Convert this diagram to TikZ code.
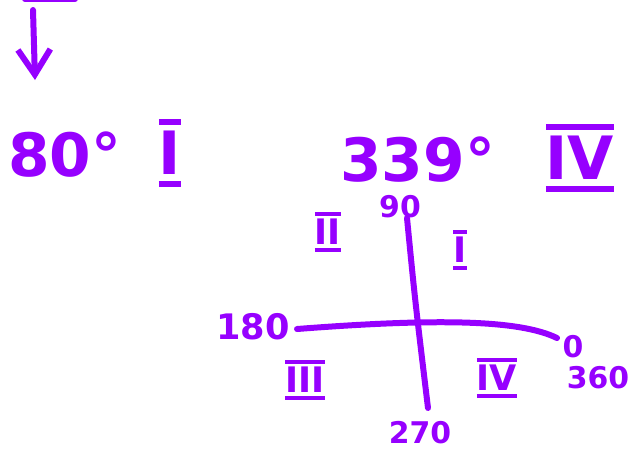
\documentclass[tikz,border=0pt]{standalone}
\usepackage{fontspec}
\setmainfont{DejaVu Sans}
\usetikzlibrary{arrows.meta,positioning}
\definecolor{penviolet}{RGB}{150,0,255}
% roman numeral with a bar above and below
\newcommand{\rnum}[1]{\setbox0=\hbox{#1}\vbox{\hrule height .11em width \wd0\kern.1em\box0\kern.1em\hrule height .11em}}

\begin{document}
\begin{tikzpicture}[
  x=0.02cm, y=-0.02cm,
  every node/.style={text=penviolet, inner sep=0pt, font=\bfseries},
  pen/.style={draw=penviolet, line width=0.12cm, line cap=round, line join=round},
  bigtext/.style={font=\bfseries\fontsize{34}{40}\selectfont},
  smalltext/.style={font=\bfseries\fontsize{17}{20}\selectfont},
  quadtext/.style={font=\bfseries\fontsize{20}{24}\selectfont}
]
\useasboundingbox (0,0) rectangle (636,468);

% arrow at the top
\coordinate (blobL) at (25,-1);
\coordinate (blobR) at (75,-1);
\draw[pen] (blobL) -- (blobR);
\coordinate (arrtop) at (33,10);
\coordinate (arrtip) at (35,80);
\draw[pen, -{Straight Barb[length=0.5cm, width=0.65cm]}] (arrtop) -- (arrtip);

% angles and their quadrants
\node[bigtext, anchor=base west] (ang80) at (8,176) {80°};
\node[bigtext] (quadA) at (170,153) {\rnum{I}};
\node[bigtext, anchor=base west] (ang339) at (340,181) {339°};
\node[bigtext] (quadB) at (580,158) {\rnum{IV}};

% axes
\coordinate (north) at (407,218);
\coordinate (south) at (428,408);
\coordinate (west) at (297,329);
\coordinate (east) at (557,338);
\draw[pen] (north) .. controls (415,300) .. (south);
\draw[pen] (west) .. controls (440,318) and (520,320) .. (east);

% axis labels
\node[smalltext] (lab90) at (400,207) {90};
\node[quadtext] (lab180) at (253,327) {180};
\node[smalltext] (lab0) at (573,347) {0};
\node[smalltext] (lab360) at (598,378) {360};
\node[smalltext] (lab270) at (420,433) {270};

% quadrant labels
\node[quadtext] (q2) at (328,232) {\rnum{II}};
\node[quadtext] (q1) at (460,250) {\rnum{I}};
\node[quadtext] (q3) at (305,380) {\rnum{III}};
\node[quadtext] (q4) at (497,378) {\rnum{IV}};
\end{tikzpicture}
\end{document}
